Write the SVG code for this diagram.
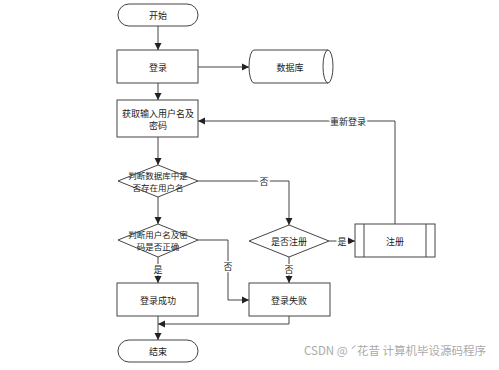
<svg xmlns="http://www.w3.org/2000/svg" width="499" height="370" viewBox="0 0 499 370">
<defs>
<marker id="arr" markerWidth="8" markerHeight="8" refX="7" refY="4" orient="auto" markerUnits="userSpaceOnUse">
<path d="M0,0.5 L7,4 L0,7.5 Z" fill="#222"/>
</marker>
<style>
.s{fill:#fff;stroke:#444;stroke-width:1}
.t{font-family:"Noto Sans CJK SC","Liberation Sans",sans-serif;font-size:9px;fill:#222;text-anchor:middle;dominant-baseline:central}
.d{font-size:8.5px}
.c{fill:none;stroke:#444;stroke-width:1}
.l{font-family:"Noto Sans CJK SC","Liberation Sans",sans-serif;font-size:9px;fill:#222;text-anchor:middle;dominant-baseline:central;stroke:#fff;stroke-width:3;paint-order:stroke}
</style>
</defs>
<rect width="499" height="370" fill="#fff"/>
<g id="connectors">
<path class="c" d="M158,26 V50" marker-end="url(#arr)"/>
<path class="c" d="M198,67 H249" marker-end="url(#arr)"/>
<path class="c" d="M158,83 V100" marker-end="url(#arr)"/>
<path class="c" d="M158,137 V165" marker-end="url(#arr)"/>
<path class="c" d="M198,181 H289 V225" marker-end="url(#arr)"/>
<path class="c" d="M158,197 V224" marker-end="url(#arr)"/>
<path class="c" d="M329,241 H355" marker-end="url(#arr)"/>
<path class="c" d="M395,224 V121 H198" marker-end="url(#arr)"/>
<path class="c" d="M198,240 H228 V300 H249" marker-end="url(#arr)"/>
<path class="c" d="M158,257 V283" marker-end="url(#arr)"/>
<path class="c" d="M289,257 V283" marker-end="url(#arr)"/>
<path class="c" d="M289,316 V324 H158" marker-end="url(#arr)"/>
<path class="c" d="M158,316 V340" marker-end="url(#arr)"/>
<text class="l" x="264" y="181">否</text>
<text class="l" x="342" y="241">是</text>
<text class="l" x="348" y="121">重新登录</text>
<text class="l" x="228" y="266">否</text>
<text class="l" x="158" y="269">是</text>
<text class="l" x="289" y="269">否</text>
</g>
<g id="start">
<rect class="s" x="118" y="4" width="80" height="22" rx="11"/>
<text class="t" x="158" y="15">开始</text>
</g>
<g id="login">
<rect class="s" x="117" y="50" width="81" height="33"/>
<text class="t" x="158" y="67">登录</text>
</g>
<g id="database">
<path class="s" d="M254,50 H328 A5,16.5 0 0 1 328,83 H254 A5,16.5 0 0 1 254,50 Z"/>
<path class="c" d="M328,50 A5,16.5 0 0 0 328,83"/>
<text class="t" x="290" y="67">数据库</text>
</g>
<g id="input">
<rect class="s" x="117" y="100" width="81" height="37"/>
<text class="t" x="158" y="113">获取输入用户名及</text>
<text class="t" x="158" y="125">密码</text>
</g>
<g id="check-user">
<polygon class="s" points="158,165 198,181 158,197 118,181"/>
<text class="t d" x="158" y="175">判断数据库中是</text>
<text class="t d" x="158" y="187">否存在用户名</text>
</g>
<g id="check-pass">
<polygon class="s" points="158,224 198,240 158,257 118,240"/>
<text class="t d" x="158" y="234">判断用户名及密</text>
<text class="t d" x="158" y="246">码是否正确</text>
</g>
<g id="ask-register">
<polygon class="s" points="289,225 329,241 289,257 249,241"/>
<text class="t" x="289" y="241">是否注册</text>
</g>
<g id="register">
<rect class="s" x="355" y="224" width="80" height="33"/>
<path class="c" d="M364,224 V257 M426,224 V257"/>
<text class="t" x="395" y="241">注册</text>
</g>
<g id="success">
<rect class="s" x="117" y="283" width="81" height="33"/>
<text class="t" x="158" y="300">登录成功</text>
</g>
<g id="fail">
<rect class="s" x="249" y="283" width="81" height="33"/>
<text class="t" x="289" y="300">登录失败</text>
</g>
<g id="end">
<rect class="s" x="118" y="340" width="80" height="22" rx="11"/>
<text class="t" x="158" y="351">结束</text>
</g>
<text x="304" y="355" font-family="'Noto Sans CJK SC','Liberation Sans',sans-serif" font-size="11.5" fill="#aaa" style="white-space:pre">CSDN @ ˊ花昔 计算机毕设源码程序</text>
</svg>
